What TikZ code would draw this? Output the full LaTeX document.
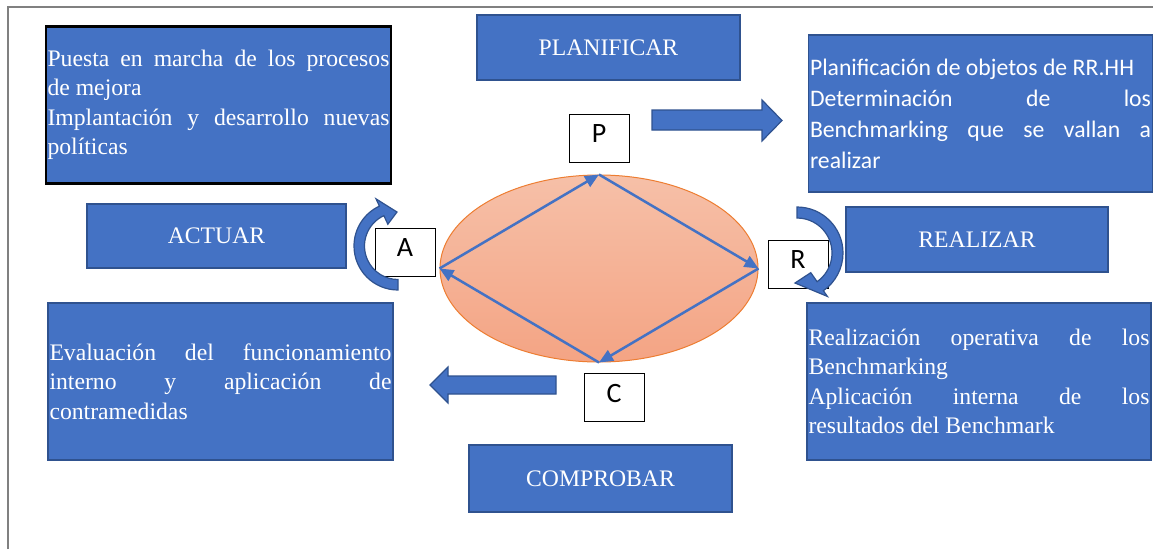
\documentclass[tikz,border=0pt]{standalone}
\usepackage{fontspec}
\setmainfont{Liberation Serif}
\newfontfamily\calibri{Carlito}
\usetikzlibrary{arrows.meta, positioning, shapes.geometric}
\definecolor{BoxBlue}{RGB}{68,114,196}
\definecolor{BoxEdge}{RGB}{47,82,143}
\definecolor{RingEdge}{RGB}{237,125,49}
\definecolor{FrameGray}{RGB}{128,128,128}
\setlength{\parindent}{0pt}

\begin{document}
\begin{tikzpicture}[
            x=1pt, y=1pt,
            font=\fontsize{23.7}{29.5}\selectfont,
            box/.style={draw=BoxEdge, line width=1.5pt, fill=BoxBlue, text=white},
            stage/.style={box, minimum width=262pt, minimum height=65pt},
            info/.style={box, text width=341pt, align=justify, inner xsep=1.5pt, minimum height=157pt},
            letter/.style={draw=black, line width=1pt, fill=white, minimum width=60pt, minimum height=48pt, text depth=9pt, font=\calibri\fontsize{28}{30}\selectfont},
            flow/.style={BoxBlue, line width=2.5pt, -{Triangle[length=14pt, width=12pt]}},
            block/.style={fill=BoxBlue, draw=BoxEdge, line width=1.2pt}
        ]
            \useasboundingbox (0,0) rectangle (1153,-549);
            \draw[FrameGray, line width=1.5pt] (8,-549) -- (8,-7) -- (1153,-7);

            \node[ellipse, draw=RingEdge, line width=1pt, top color={rgb,255:red,246;green,192;blue,168}, bottom color={rgb,255:red,244;green,164;blue,132}, minimum width=318pt, minimum height=187pt, inner sep=0pt] (ring) at (599,-268.5) {};
            \draw[flow] (ring.west) -- (ring.north);
            \draw[flow] (ring.north) -- (ring.east);
            \draw[flow] (ring.east) -- (ring.south);
            \draw[flow] (ring.south) -- (ring.west);

            \node[info, draw=black, line width=2.5pt, text width=342pt] (mejora) at (218.5,-105) {\hyphenpenalty=10000 Puesta en marcha de los procesos\linebreak de mejora\par Implantación y desarrollo nuevas\linebreak políticas};
            \node[info, font=\calibri\fontsize{23.7}{31}\selectfont] (objetivos) at (980.5,-113.5) {\hyphenpenalty=10000 Planificación de objetos de RR.HH\par Determinación de los\linebreak Benchmarking que se vallan a\linebreak realizar};
            \node[info, text width=342pt] (evaluacion) at (220.5,-381.5) {\hyphenpenalty=10000 Evaluación del funcionamiento\linebreak interno y aplicación de\linebreak contramedidas};
            \node[info] (resultados) at (979,-381.5) {\hyphenpenalty=10000 Realización operativa de los\linebreak Benchmarking\par Aplicación interna de los\linebreak resultados del Benchmark};

            \node[stage, minimum width=263pt] (planificar) at (608.5,-47.5) {PLANIFICAR};
            \node[stage, minimum width=259pt, minimum height=64pt] (actuar) at (216.5,-236) {ACTUAR};
            \node[stage] (realizar) at (977,-239.5) {REALIZAR};
            \node[stage, minimum width=263pt, minimum height=67pt] (comprobar) at (600.5,-478.5) {COMPROBAR};

            \node[letter] (p) at (599,-138) {P};
            \node[letter] (a) at (405,-252.5) {A};
            \node[letter] (r) at (798,-264) {R};
            \node[letter] (c) at (614,-397.5) {C};

            \draw[block] (652,-110) -- (762,-110) -- (762,-100) -- (782,-120.5) -- (762,-141) -- (762,-130) -- (652,-130) -- cycle;
            \draw[block] (556,-376) -- (448,-376) -- (448,-367) -- (430,-385) -- (448,-403) -- (448,-394) -- (556,-394) -- cycle;
            \begin{scope}[shift={(398,-246)}]
                \draw[block] (270:44) arc[start angle=270, end angle=115, radius=44] -- (115:52) -- (-1,34) -- (115:24) -- (115:33.5) arc[start angle=115, end angle=270, radius=33.5] -- cycle;
            \end{scope}
            \begin{scope}[shift={(797,-253)}]
                \draw[block] (90:46) arc[start angle=90, end angle=-55, radius=46] -- (-55:53) -- (-2,-30) -- (-55:24) -- (-55:35) arc[start angle=-55, end angle=90, radius=35] -- cycle;
            \end{scope}
        \end{tikzpicture}
\end{document}
